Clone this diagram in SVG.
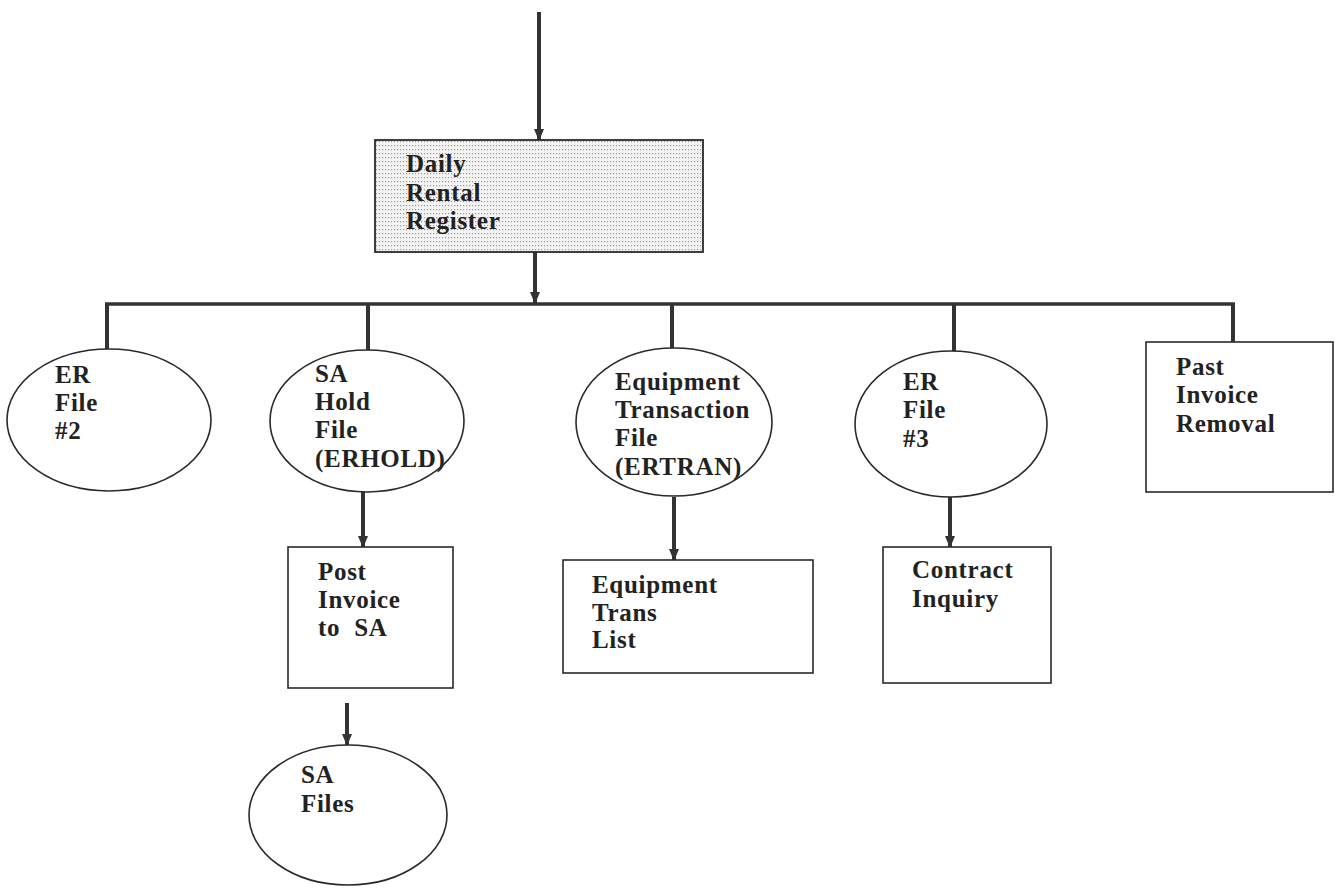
<svg xmlns="http://www.w3.org/2000/svg" width="1335" height="890" viewBox="0 0 1335 890">
  <defs>
    <pattern id="stipple" width="3" height="4" patternUnits="userSpaceOnUse">
      <rect width="3" height="4" fill="#f4f4f4"/>
      <rect x="1" y="1" width="1.2" height="1.2" fill="#9a9a9a"/>
    </pattern>
    <marker id="head" markerWidth="12" markerHeight="10" refX="11" refY="5" orient="auto" markerUnits="userSpaceOnUse" viewBox="0 0 12 10">
      <path d="M0,0 L12,5 L0,10 Z" fill="#333"/>
    </marker>
  </defs>
  <style>
    .shape { fill: #fff; stroke: #2a2a2a; stroke-width: 1.6; }
    .lbl { font-family: "Liberation Serif", "Times New Roman", serif; font-weight: bold; font-size: 25px; letter-spacing: 0.7px; fill: #222; }
    .wire { stroke: #333; stroke-width: 4; fill: none; }
    .bus { stroke: #333; stroke-width: 3.5; fill: none; }
    .arr { stroke: #333; stroke-width: 4; fill: none; marker-end: url(#head); }
  </style>

  <rect width="1335" height="890" fill="#fff"/>

  <!-- connectors: feed arrows, distribution bus and drops -->
  <g id="connectors">
    <line class="arr" x1="539" y1="12" x2="539" y2="140"/>
    <line class="arr" x1="535" y1="252" x2="535" y2="303"/>
    <line class="bus" x1="105" y1="304" x2="1235" y2="304"/>
    <line class="wire" x1="107" y1="304" x2="107" y2="349"/>
    <line class="wire" x1="368" y1="304" x2="368" y2="350"/>
    <line class="wire" x1="672" y1="304" x2="672" y2="348"/>
    <line class="wire" x1="954" y1="304" x2="954" y2="352"/>
    <line class="wire" x1="1233" y1="304" x2="1233" y2="342"/>
    <line class="arr" x1="363" y1="492" x2="363" y2="547"/>
    <line class="arr" x1="347" y1="703" x2="347" y2="745"/>
    <line class="arr" x1="674" y1="497" x2="674" y2="560"/>
    <line class="arr" x1="950" y1="497" x2="950" y2="547"/>
  </g>

  <g id="daily-rental-register">
    <rect x="375" y="140" width="328" height="112" fill="url(#stipple)" stroke="#2a2a2a" stroke-width="1.8"/>
    <text class="lbl" x="406" y="172">Daily</text>
    <text class="lbl" x="406" y="201">Rental</text>
    <text class="lbl" x="406" y="229">Register</text>
  </g>

  <g id="er-file-2">
    <ellipse class="shape" cx="109" cy="420" rx="102" ry="71"/>
    <text class="lbl" x="55" y="383">ER</text>
    <text class="lbl" x="55" y="411">File</text>
    <text class="lbl" x="55" y="439">#2</text>
  </g>

  <g id="sa-hold-file">
    <ellipse class="shape" cx="367" cy="421" rx="97" ry="71"/>
    <text class="lbl" x="315" y="382">SA</text>
    <text class="lbl" x="315" y="410">Hold</text>
    <text class="lbl" x="315" y="438">File</text>
    <text class="lbl" x="315" y="467">(ERHOLD)</text>
  </g>

  <g id="equipment-transaction-file">
    <ellipse class="shape" cx="674" cy="422" rx="98" ry="74"/>
    <text class="lbl" x="615" y="390">Equipment</text>
    <text class="lbl" x="615" y="418">Transaction</text>
    <text class="lbl" x="615" y="446">File</text>
    <text class="lbl" x="615" y="475">(ERTRAN)</text>
  </g>

  <g id="er-file-3">
    <ellipse class="shape" cx="951" cy="424" rx="96" ry="73"/>
    <text class="lbl" x="903" y="390">ER</text>
    <text class="lbl" x="903" y="418">File</text>
    <text class="lbl" x="903" y="447">#3</text>
  </g>

  <g id="past-invoice-removal">
    <rect class="shape" x="1146" y="342" width="187" height="150"/>
    <text class="lbl" x="1176" y="375">Past</text>
    <text class="lbl" x="1176" y="403">Invoice</text>
    <text class="lbl" x="1176" y="432">Removal</text>
  </g>

  <g id="post-invoice-to-sa">
    <rect class="shape" x="288" y="547" width="165" height="141"/>
    <text class="lbl" x="318" y="580">Post</text>
    <text class="lbl" x="318" y="608">Invoice</text>
    <text class="lbl" x="318" y="636" xml:space="preserve">to  SA</text>
  </g>

  <g id="sa-files">
    <ellipse class="shape" cx="348" cy="815" rx="99" ry="70"/>
    <text class="lbl" x="301" y="783">SA</text>
    <text class="lbl" x="301" y="812">Files</text>
  </g>

  <g id="equipment-trans-list">
    <rect class="shape" x="563" y="560" width="250" height="113"/>
    <text class="lbl" x="592" y="593">Equipment</text>
    <text class="lbl" x="592" y="621">Trans</text>
    <text class="lbl" x="592" y="648">List</text>
  </g>

  <g id="contract-inquiry">
    <rect class="shape" x="883" y="547" width="168" height="136"/>
    <text class="lbl" x="912" y="578">Contract</text>
    <text class="lbl" x="912" y="607">Inquiry</text>
  </g>
</svg>
